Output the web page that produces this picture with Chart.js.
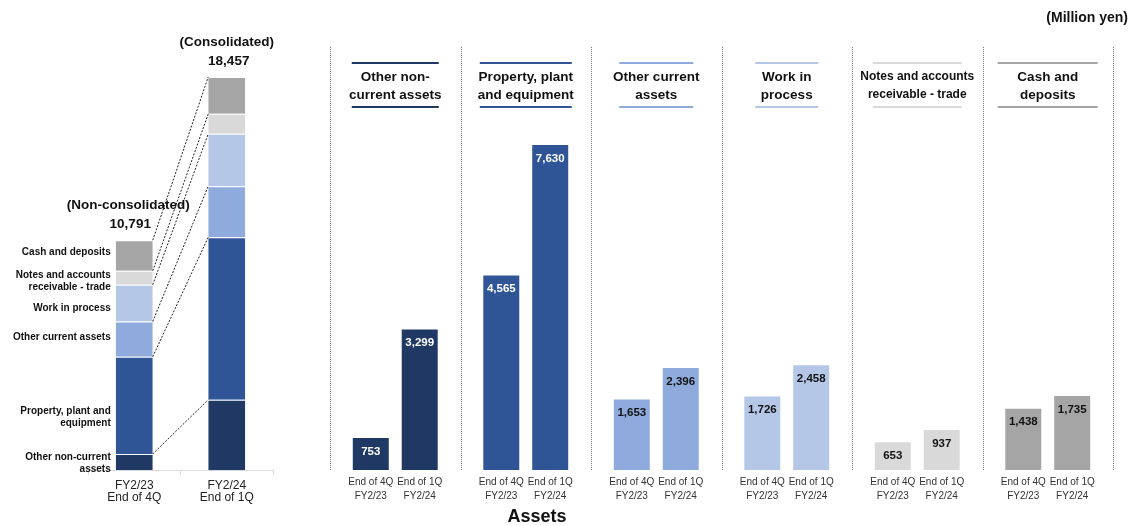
<!DOCTYPE html>
<html>
<head>
<meta charset="utf-8">
<title>Assets</title>
<script src="https://cdn.jsdelivr.net/npm/chart.js@4.4.1/dist/chart.umd.min.js"></script>
<style>
  html, body { margin: 0; padding: 0; background: #fff; }
  #wrap { position: relative; width: 1132px; height: 526px; overflow: hidden; }
  #totalChart { position: absolute; left: 0; top: 0; }
  #itemChart { position: absolute; left: 320px; top: 0; }
</style>
</head>
<body>
<div id="wrap">
  <canvas id="totalChart" width="330" height="526"></canvas>
  <canvas id="itemChart" width="812" height="526"></canvas>
</div>
<script>
// Asset breakdown, million yen (bottom of the stack first)
const periods = [['FY2/23', 'End of 4Q'], ['FY2/24', 'End of 1Q']];
const periodTicks = [['End of 4Q', 'FY2/23'], ['End of 1Q', 'FY2/24']];
const items = ['Other non-current assets', 'Property, plant and equipment', 'Other current assets',
  'Work in process', 'Notes and accounts receivable - trade', 'Cash and deposits'];
const itemLabels = [['Other non-current', 'assets'], ['Property, plant and', 'equipment'], ['Other current assets'],
  ['Work in process'], ['Notes and accounts', 'receivable - trade'], ['Cash and deposits']];
const itemHeaders = [['Other non-', 'current assets'], ['Property, plant', 'and equipment'], ['Other current', 'assets'],
  ['Work in', 'process'], ['Notes and accounts', 'receivable - trade'], ['Cash and', 'deposits']];
const end4Q = [753, 4565, 1653, 1726, 653, 1438];
const end1Q = [3299, 7630, 2396, 2458, 937, 1735];
const totals = [10791, 18457];
const totalCaptions = ['(Non-consolidated)', '(Consolidated)'];

// styling
const itemColors = ['#203864', '#2f5597', '#8faadc', '#b4c7e7', '#d9d9d9', '#a5a5a5'];
const valueTextColors = ['#fff', '#fff', '#111', '#111', '#111', '#111'];
const labelShift = [1, 12, -2, 5, 3, -3];
const headerRuleWidths = [87, 92, 74, 63, 89, 100];
const headerFontSizes = [13.5, 13.5, 13.5, 13.5, 12, 13.5];
const FONT = 'Arial, "Liberation Sans", sans-serif';

Chart.defaults.font.family = FONT;
Chart.defaults.color = '#222';

const fmt = v => v.toLocaleString('en-US');

function textLines(ctx, lines, x, yCenter, lineH) {
  const y0 = yCenter - (lines.length - 1) * lineH / 2;
  lines.forEach((t, i) => ctx.fillText(t, x, y0 + i * lineH));
}

// ---- left: stacked totals with connectors ----
const totalPlugin = {
  id: 'totalDecor',
  afterDatasetsDraw(chart) {
    const ctx = chart.ctx;
    ctx.save();

    // dotted connectors between segment tops
    ctx.strokeStyle = '#222';
    ctx.lineWidth = 1;
    ctx.setLineDash([2, 1.5]);
    items.forEach((_, k) => {
      const [a, b] = chart.getDatasetMeta(k).data;
      ctx.beginPath();
      ctx.moveTo(a.x + a.width / 2, a.y);
      ctx.lineTo(b.x - b.width / 2, b.y);
      ctx.stroke();
    });
    ctx.setLineDash([]);

    // segment names beside the first bar
    ctx.fillStyle = '#111';
    ctx.font = 'bold 10px ' + FONT;
    ctx.textAlign = 'right';
    ctx.textBaseline = 'middle';
    items.forEach((_, k) => {
      const a = chart.getDatasetMeta(k).data[0];
      const mid = (a.y + a.base) / 2 + labelShift[k];
      textLines(ctx, itemLabels[k], a.x - a.width / 2 - 5, mid, 12);
    });

    // captions and totals above each bar
    ctx.textAlign = 'center';
    ctx.font = 'bold 13.5px ' + FONT;
    const topMeta = chart.getDatasetMeta(items.length - 1);
    totals.forEach((t, i) => {
      const el = topMeta.data[i];
      const dx = i === 0 ? -6 : 0;
      ctx.fillText(totalCaptions[i], el.x + dx, el.y - 35);
      ctx.fillText(fmt(t), el.x + dx + 2, el.y - 16);
    });
    ctx.restore();
  }
};

new Chart(document.getElementById('totalChart'), {
  type: 'bar',
  data: {
    labels: periods,
    datasets: items.map((name, k) => ({
      label: name,
      data: [end4Q[k], end1Q[k]],
      backgroundColor: itemColors[k],
      borderColor: 'rgba(255,255,255,0.45)',
      borderWidth: { top: 1, right: 0, bottom: 0, left: 0 },
      borderSkipped: false,
      categoryPercentage: 0.4,
      barPercentage: 1
    }))
  },
  options: {
    responsive: false,
    animation: false,
    layout: { padding: { left: 88, right: 57, top: 44, bottom: 16 } },
    plugins: { legend: { display: false }, tooltip: { enabled: false } },
    scales: {
      x: {
        stacked: true,
        afterFit: s => { s.height = 40; },
        border: { display: true, color: '#d9d9d9' },
        grid: { drawOnChartArea: false, drawTicks: true, tickLength: 5, color: '#d9d9d9' },
        ticks: { color: '#222', font: { size: 12, lineHeight: 1.05 }, padding: 4, maxRotation: 0 }
      },
      y: { stacked: true, display: false, min: 0, max: 20000 }
    }
  },
  plugins: [totalPlugin]
});

// ---- right: per-item comparison panels ----
const itemPlugin = {
  id: 'itemDecor',
  beforeDatasetsDraw(chart) {
    const { ctx, chartArea: area } = chart;
    const w = area.width / items.length;
    ctx.save();
    ctx.strokeStyle = '#777';
    ctx.lineWidth = 1;
    ctx.setLineDash([1, 1]);
    for (let k = 0; k <= items.length; k++) {
      const x = Math.round(area.left + k * w) + 0.5;
      ctx.beginPath();
      ctx.moveTo(x, area.top + 3);
      ctx.lineTo(x, area.bottom);
      ctx.stroke();
    }
    ctx.restore();
  },
  afterDatasetsDraw(chart) {
    const { ctx, scales } = chart;
    ctx.save();
    ctx.textAlign = 'center';
    ctx.textBaseline = 'middle';

    chart.data.datasets.forEach((ds, d) => {
      chart.getDatasetMeta(d).data.forEach((el, i) => {
        // value inside the bar
        ctx.font = 'bold 11.5px ' + FONT;
        ctx.fillStyle = valueTextColors[i];
        ctx.fillText(fmt(ds.data[i]), el.x, el.y + 13.5);
        // period under the bar
        ctx.font = '10px ' + FONT;
        ctx.fillStyle = '#333';
        textLines(ctx, periodTicks[d], el.x, 489, 14);
      });
    });

    // panel headers between two rules
    items.forEach((_, i) => {
      const cx = scales.x.getPixelForValue(i);
      const half = headerRuleWidths[i] / 2;
      ctx.strokeStyle = itemColors[i];
      ctx.lineWidth = 2;
      [63, 107].forEach(y => {
        ctx.beginPath();
        ctx.moveTo(cx - half, y);
        ctx.lineTo(cx + half, y);
        ctx.stroke();
      });
      ctx.fillStyle = '#111';
      ctx.font = 'bold ' + headerFontSizes[i] + 'px ' + FONT;
      textLines(ctx, itemHeaders[i], cx, 86, 18);
    });

    ctx.fillStyle = '#111';
    ctx.font = 'bold 14px ' + FONT;
    ctx.textAlign = 'right';
    ctx.fillText('(Million yen)', 808, 18);
    ctx.font = 'bold 18px ' + FONT;
    ctx.textAlign = 'center';
    ctx.fillText('Assets', 217, 517);
    ctx.restore();
  }
};

new Chart(document.getElementById('itemChart'), {
  type: 'bar',
  data: {
    labels: items,
    datasets: [
      { label: 'End of 4Q FY2/23', data: end4Q, backgroundColor: itemColors },
      { label: 'End of 1Q FY2/24', data: end1Q, backgroundColor: itemColors }
    ]
  },
  options: {
    responsive: false,
    animation: false,
    datasets: { bar: { categoryPercentage: 0.75, barPercentage: 0.735 } },
    layout: { padding: { left: 10, right: 19, top: 44, bottom: 56 } },
    plugins: { legend: { display: false }, tooltip: { enabled: false } },
    scales: {
      x: { display: false },
      y: { display: false, min: 0, max: 10000 }
    }
  },
  plugins: [itemPlugin]
});
</script>
</body>
</html>
